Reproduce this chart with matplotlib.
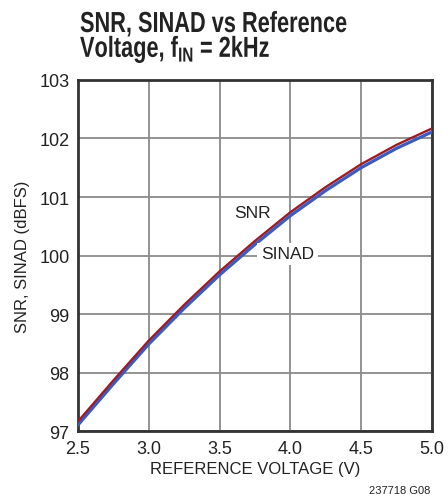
import matplotlib
matplotlib.use("Agg")
import matplotlib.pyplot as plt
import matplotlib.transforms as mtransforms
from matplotlib.textpath import TextPath
from matplotlib.patches import PathPatch
from matplotlib.font_manager import FontProperties

# data
vref = [2.5, 2.75, 3.0, 3.25, 3.5, 3.75, 4.0, 4.25, 4.5, 4.75, 5.0]
snr = [97.17, 97.87, 98.55, 99.16, 99.73, 100.25, 100.74, 101.17, 101.56, 101.89, 102.17]
sinad = [97.11, 97.81, 98.49, 99.10, 99.67, 100.19, 100.68, 101.11, 101.50, 101.83, 102.11]

xticks = [2.5, 3.0, 3.5, 4.0, 4.5, 5.0]
xticklabels = ["2.5", "3.0", "3.5", "4.0", "4.5", "5.0"]
yticks = [97, 98, 99, 100, 101, 102, 103]

plt.rcParams['font.family'] = ["Liberation Sans", "DejaVu Sans"]
plt.rcParams['mathtext.fontset'] = 'custom'
plt.rcParams['mathtext.rm'] = 'Liberation Sans:bold'
plt.rcParams['mathtext.bf'] = 'Liberation Sans:bold'

fig = plt.figure(figsize=(4.48, 5.02), dpi=100)
ax = fig.add_axes([0.174, 0.1385, 0.79, 0.7005])

ax.plot(vref, sinad, color="#3a5bbf", lw=2.3, zorder=3)
ax.plot(vref, snr, color="#9c1c26", lw=1.7, zorder=4)

ax.set_xlim(2.5, 5.0)
ax.set_ylim(97, 103)
ax.set_xticks(xticks)
ax.set_xticklabels(xticklabels)
ax.set_yticks(yticks)
ax.grid(True, color="#8a8a8a", lw=1.3)
ax.set_axisbelow(True)
ax.tick_params(length=0, labelsize=13, colors="#222222", pad=6)
for s in ax.spines.values():
    s.set_color("#333333")
    s.set_linewidth(2)

ax.set_xlabel("REFERENCE VOLTAGE (V)", fontsize=12, color="#222222", labelpad=3)
ax.set_ylabel("SNR, SINAD (dBFS)", fontsize=12, color="#222222", labelpad=7)

ax.text(3.73, 100.74, "SNR", fontsize=12.5, color="#222222", ha="center", va="center")
ax.text(3.98, 100.03, "SINAD", fontsize=12.5, color="#222222", ha="center", va="center",
        bbox=dict(facecolor="white", edgecolor="none", pad=2.5), zorder=5)

# condensed bold title drawn as squeezed text paths (pixel coords)
fp = FontProperties(family="Liberation Sans", weight="bold")
for txt, base in [("SNR, SINAD vs Reference", 469), (r"Voltage, f$_{\mathrm{IN}}$ = 2kHz", 444)]:
    tp = TextPath((0, 0), txt, size=29, prop=fp)
    tr = mtransforms.Affine2D().scale(0.75, 1).translate(80, base)
    fig.add_artist(PathPatch(tp, transform=tr, fc="#222222", ec="none"))

fig.text(0.96, 0.016, "237718 G08", fontsize=8, color="#222222", ha="right")

fig.savefig("out.png", dpi=100)
